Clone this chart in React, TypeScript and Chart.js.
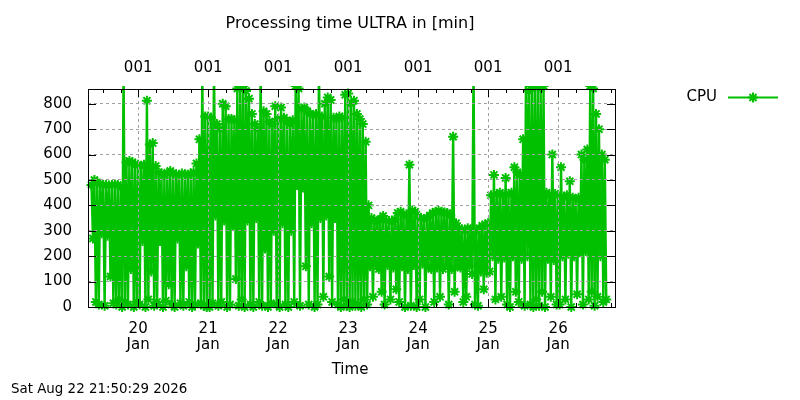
import { useEffect, useRef } from 'react';
import { Chart, registerables } from 'chart.js';

Chart.register(...registerables);

const GREEN = 'rgb(0,192,0)';
const GRID = 'rgb(160,160,160)';
const FONT = 'DejaVu Sans';

const chartTitle = 'Processing time ULTRA in [min]';
const xTitle = 'Time';
const seriesName = 'CPU';
const stamp = 'Sat Aug 22 21:50:29 2026';

// x is hours since 19 Jan 00:00
const dayTicks = [24, 48, 72, 96, 120, 144, 168];
const dayLabels = ['20', '21', '22', '23', '24', '25', '26'];
const monthLabel = 'Jan';
const topTickLabel = '001';
const yTicks = [0, 100, 200, 300, 400, 500, 600, 700, 800];

// hourly max / min of the processing time, one pair of arrays per day
// 19 Jan starts at 08:00, 26 Jan ends at 16:00
const dayStartHour = [8, 0, 0, 0, 0, 0, 0, 0];

const high19 = [480, 500, 490, 485, 480, 480, 478, 480, 482, 480, 470, 950, 570, 575, 570, 560];
const low19 = [270, 20, 10, 290, 5, 280, 120, 15, 10, 30, 0, 20, 10, 150, 0, 20];

const high20 = [560, 555, 560, 812, 640, 645, 555, 530, 525, 520, 528, 535, 525, 522, 520, 525, 522, 520, 525, 530, 565, 660, 950, 750];
const low20 = [10, 260, 0, 30, 140, 5, 20, 260, 0, 25, 90, 10, 0, 270, 15, 5, 160, 20, 0, 10, 250, 15, 5, 0];

const high21 = [750, 745, 950, 720, 700, 800, 790, 740, 740, 735, 860, 880, 870, 850, 820, 760, 720, 700, 950, 770, 760, 730, 720, 790];
const low21 = [0, 15, 360, 5, 20, 340, 0, 10, 320, 110, 5, 30, 0, 340, 10, 0, 350, 20, 5, 230, 0, 15, 300, 10];

const high22 = [740, 785, 745, 730, 720, 735, 870, 860, 780, 785, 770, 760, 755, 760, 950, 750, 800, 825, 815, 745, 740, 750, 745, 835];
const low22 = [0, 330, 10, 0, 300, 20, 480, 5, 470, 160, 10, 330, 0, 10, 350, 40, 360, 120, 20, 350, 10, 0, 30, 5];

const high23 = [840, 800, 812, 760, 740, 720, 650, 400, 350, 340, 335, 345, 358, 340, 338, 335, 345, 370, 375, 360, 365, 560, 380, 375];
const low23 = [0, 20, 5, 10, 0, 30, 10, 160, 40, 170, 150, 60, 10, 165, 30, 155, 70, 20, 160, 0, 150, 5, 165, 0];

const high24 = [355, 350, 345, 350, 360, 370, 375, 378, 375, 372, 370, 360, 670, 330, 310, 305, 300, 310, 305, 950, 300, 310, 320, 325];
const low24 = [30, 170, 0, 160, 150, 20, 155, 40, 150, 165, 10, 150, 60, 160, 155, 20, 40, 160, 130, 10, 5, 140, 70, 135];

const high25 = [330, 440, 520, 445, 450, 440, 508, 445, 450, 550, 530, 520, 660, 950, 850, 870, 880, 870, 860, 870, 450, 440, 600, 445];
const low25 = [140, 200, 30, 190, 40, 195, 10, 0, 200, 60, 20, 190, 5, 200, 10, 0, 30, 5, 60, 0, 190, 40, 185, 10];

const high26 = [440, 550, 430, 440, 495, 430, 425, 430, 600, 580, 620, 870, 860, 760, 700, 600, 580];
const low26 = [10, 200, 30, 210, 0, 200, 50, 215, 10, 220, 30, 60, 5, 40, 200, 20, 30];

const dayHigh = [high19, high20, high21, high22, high23, high24, high25, high26];
const dayLow = [low19, low20, low21, low22, low23, low24, low25, low26];

function buildPoints() {
  const pts: { x: number; y: number }[] = [];
  dayHigh.forEach((hi, d) => {
    hi.forEach((v, i) => {
      const h = d * 24 + dayStartHour[d] + i;
      pts.push({ x: h, y: v });
      pts.push({ x: h + 0.5, y: dayLow[d][i] });
    });
  });
  return pts;
}

function star(ctx: CanvasRenderingContext2D, x: number, y: number, r: number) {
  const d = r * Math.SQRT1_2;
  ctx.beginPath();
  ctx.moveTo(x - r, y); ctx.lineTo(x + r, y);
  ctx.moveTo(x, y - r); ctx.lineTo(x, y + r);
  ctx.moveTo(x - d, y - d); ctx.lineTo(x + d, y + d);
  ctx.moveTo(x - d, y + d); ctx.lineTo(x + d, y - d);
  ctx.stroke();
}

// gnuplot style frame, inward tics, title, key and timestamp
const framePlugin = {
  id: 'frame',
  afterDraw(chart: any) {
    const { ctx, chartArea: a, scales } = chart;
    const xs = scales.x;
    const ys = scales.y;
    ctx.save();
    ctx.strokeStyle = '#000';
    ctx.lineWidth = 1;
    ctx.strokeRect(a.left + 0.5, a.top + 0.5, a.right - a.left, a.bottom - a.top);
    ctx.beginPath();
    for (let h = 6 * Math.ceil(xs.min / 6); h <= xs.max; h += 6) {
      const px = Math.round(xs.getPixelForValue(h)) + 0.5;
      const len = h % 24 === 0 ? 8 : 4;
      ctx.moveTo(px, a.bottom); ctx.lineTo(px, a.bottom - len);
      ctx.moveTo(px, a.top); ctx.lineTo(px, a.top + len);
    }
    for (const v of yTicks) {
      const py = Math.round(ys.getPixelForValue(v)) + 0.5;
      ctx.moveTo(a.left, py); ctx.lineTo(a.left + 8, py);
      ctx.moveTo(a.right, py); ctx.lineTo(a.right - 8, py);
    }
    ctx.stroke();

    ctx.fillStyle = '#000';
    ctx.textBaseline = 'middle';
    ctx.textAlign = 'center';
    ctx.font = `16px "${FONT}"`;
    ctx.fillText(chartTitle, 350, 24);
    ctx.font = `15px "${FONT}"`;
    ctx.fillText(xTitle, 350, 370);
    ctx.textAlign = 'right';
    ctx.fillText(seriesName, 717, 97);

    ctx.strokeStyle = GREEN;
    ctx.lineWidth = 2;
    ctx.beginPath();
    ctx.moveTo(728, 97.5); ctx.lineTo(778, 97.5);
    ctx.stroke();
    star(ctx, 753, 97.5, 5);

    ctx.textAlign = 'left';
    ctx.font = `13.4px "${FONT}"`;
    ctx.fillText(stamp, 11, 390);
    ctx.restore();
  },
};

export default function App() {
  const canvasRef = useRef<HTMLCanvasElement>(null);
  const chartRef = useRef<Chart | null>(null);

  useEffect(() => {
    if (!canvasRef.current) return;
    if (chartRef.current) chartRef.current.destroy();
    const ctx = canvasRef.current.getContext('2d');
    if (!ctx) return;

    const tickFont = { family: FONT, size: 15, lineHeight: 1.07 };

    chartRef.current = new Chart(ctx, {
      type: 'line',
      data: {
        datasets: [{
          label: seriesName,
          data: buildPoints(),
          borderColor: GREEN,
          backgroundColor: GREEN,
          borderWidth: 2.4,
          pointStyle: 'star',
          pointRadius: 5,
          pointBorderWidth: 2,
          pointBorderColor: GREEN,
          pointBackgroundColor: GREEN,
          tension: 0,
          clip: { left: 6, right: 6, top: 3, bottom: 6 },
          xAxisID: 'x',
          yAxisID: 'y',
        } as any],
      },
      options: {
        animation: false,
        responsive: true,
        maintainAspectRatio: false,
        events: [],
        layout: { padding: { left: 0, top: 0, right: 185, bottom: 0 } },
        plugins: {
          legend: { display: false },
          tooltip: { enabled: false },
          title: { display: false },
        },
        scales: {
          x: {
            type: 'linear',
            position: 'bottom',
            min: 6.8,
            max: 187.5,
            afterBuildTicks: (s: any) => { s.ticks = dayTicks.map(v => ({ value: v })); },
            afterFit: (s: any) => { s.height = 93; },
            ticks: {
              autoSkip: false,
              maxRotation: 0,
              color: '#000',
              font: tickFont,
              padding: 14,
              callback: (_v: any, i: number) => [dayLabels[i], monthLabel],
            },
            grid: { color: GRID, lineWidth: 1, drawTicks: false, z: 1 },
            border: { display: false, dash: [3, 3] },
          },
          x2: {
            type: 'linear',
            axis: 'x',
            position: 'top',
            min: 6.8,
            max: 187.5,
            afterBuildTicks: (s: any) => { s.ticks = dayTicks.map(v => ({ value: v })); },
            afterFit: (s: any) => { s.height = 89; },
            ticks: {
              autoSkip: false,
              maxRotation: 0,
              color: '#000',
              font: tickFont,
              padding: 13,
              callback: () => topTickLabel,
            },
            grid: { display: false, drawTicks: false },
            border: { display: false },
          },
          y: {
            type: 'linear',
            min: 0,
            max: 858,
            afterBuildTicks: (s: any) => { s.ticks = yTicks.map(v => ({ value: v })); },
            afterFit: (s: any) => { s.width = 88; },
            ticks: { color: '#000', font: tickFont, padding: 16 },
            grid: { color: GRID, lineWidth: 1, drawTicks: false, z: 1 },
            border: { display: false, dash: [3, 3] },
          },
        },
      } as any,
      plugins: [framePlugin],
    });

    return () => {
      if (chartRef.current) {
        chartRef.current.destroy();
        chartRef.current = null;
      }
    };
  }, []);

  return (
    <div style={{ position: 'absolute', left: 0, top: 0, width: 800, height: 400, background: '#fff' }}>
      <canvas ref={canvasRef}></canvas>
    </div>
  );
}
